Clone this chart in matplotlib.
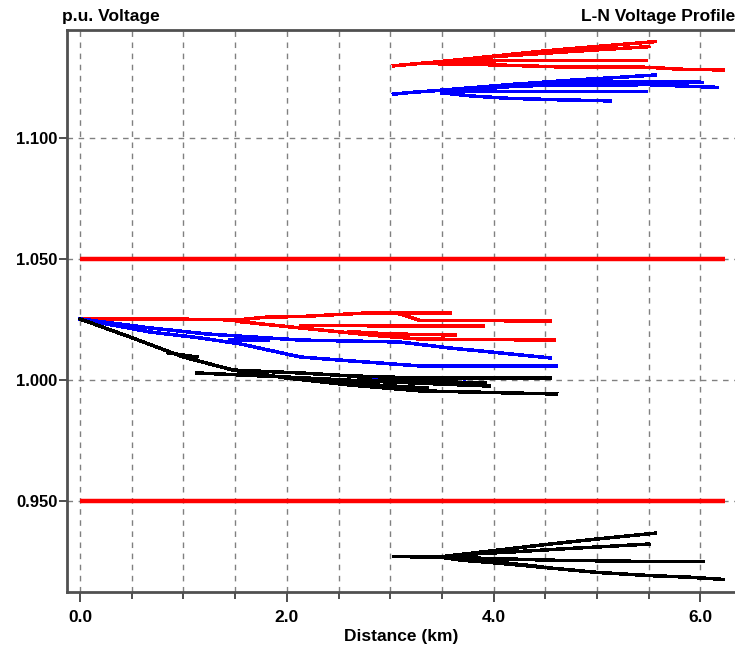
import matplotlib.pyplot as plt
from matplotlib.ticker import MultipleLocator

# branch profiles: (distance km, voltage p.u.)
# feeder near source, phase A (red)
red_mid_1 = [(0.0, 1.0252), (0.87, 1.0252), (1.52, 1.0248), (1.81, 1.0260), (2.13, 1.0262), (2.78, 1.0277), (3.58, 1.0277)]
red_mid_2 = [(3.09, 1.0273), (3.29, 1.0246), (4.55, 1.0244)]
red_mid_3 = [(1.52, 1.0242), (2.13, 1.0215), (2.90, 1.0182), (3.29, 1.0169), (4.59, 1.0165)]
red_mid_4 = [(2.13, 1.0226), (2.80, 1.0224), (3.90, 1.0223)]
red_mid_5 = [(2.60, 1.0200), (3.00, 1.0190), (3.63, 1.0186)]

# phase B (blue)
blue_mid_1 = [(0.0, 1.0252), (0.68, 1.0215), (1.23, 1.0190), (2.13, 1.0165), (3.09, 1.0157), (3.58, 1.0132), (4.06, 1.0112), (4.55, 1.0091)]
blue_mid_2 = [(0.0, 1.0252), (0.68, 1.0198), (1.16, 1.0174), (1.55, 1.0149), (2.13, 1.0095), (2.61, 1.0079), (3.29, 1.0058), (4.61, 1.0058)]
blue_mid_3 = [(1.45, 1.0166), (1.82, 1.0163)]
blue_mid_4 = [(2.83, 1.0012), (3.72, 1.0005)]

# phase C (black)
black_mid_1 = [(0.0, 1.0252), (0.48, 1.0178), (1.00, 1.0095), (1.48, 1.0041), (2.00, 1.0008), (2.61, 0.9979), (3.29, 0.9955), (4.61, 0.9942)]
black_mid_2 = [(1.48, 1.0041), (2.13, 1.0029), (2.61, 1.0017), (3.29, 1.0008), (4.55, 1.0008)]
black_mid_3 = [(1.13, 1.0029), (2.00, 1.0012), (2.80, 0.9995), (3.96, 0.9975)]
black_mid_4 = [(0.85, 1.0112), (1.13, 1.0095)]
black_mid_5 = [(2.40, 0.9990), (3.36, 0.9967)]
black_mid_6 = [(2.70, 1.0000), (3.92, 0.9988)]

# far end, high voltage group
red_hi_1 = [(3.03, 1.1298), (3.50, 1.1316), (4.00, 1.1338), (4.50, 1.1360), (5.00, 1.1378), (5.56, 1.1398)]
red_hi_2 = [(3.87, 1.1332), (4.50, 1.1350), (5.00, 1.1364), (5.50, 1.1377)]
red_hi_3 = [(3.60, 1.1318), (4.50, 1.1320), (5.48, 1.1319)]
red_hi_4 = [(3.30, 1.1308), (4.00, 1.1302), (4.60, 1.1294), (5.50, 1.1292), (5.80, 1.1284), (6.22, 1.1281)]

blue_hi_1 = [(3.03, 1.1181), (3.20, 1.1188), (3.40, 1.1194), (3.74, 1.1206), (4.20, 1.1222), (4.80, 1.1240), (5.20, 1.1250), (5.56, 1.1260)]
blue_hi_2 = [(4.20, 1.1222), (4.80, 1.1232), (5.50, 1.1233), (6.02, 1.1230)]
blue_hi_3 = [(3.74, 1.1204), (4.50, 1.1218), (5.50, 1.1220), (6.16, 1.1209)]
blue_hi_4 = [(3.50, 1.1194), (4.50, 1.1192), (5.48, 1.1191)]
blue_hi_5 = [(3.50, 1.1186), (3.80, 1.1173), (4.13, 1.1164), (4.60, 1.1158), (5.13, 1.1153)]

# far end, low voltage group
black_lo_1 = [(3.03, 0.9270), (3.48, 0.9269), (4.00, 0.9295), (4.50, 0.9320), (5.00, 0.9343), (5.56, 0.9367)]
black_lo_2 = [(3.75, 0.9280), (4.20, 0.9290), (4.70, 0.9303), (5.00, 0.9310), (5.50, 0.9322)]
black_lo_3 = [(3.48, 0.9268), (4.00, 0.9262), (4.60, 0.9255), (5.00, 0.9253), (5.50, 0.9250), (6.03, 0.9249)]
black_lo_4 = [(3.48, 0.9268), (3.70, 0.9255), (4.00, 0.9245), (4.50, 0.9225), (5.00, 0.9205), (5.50, 0.9192), (5.90, 0.9185), (6.22, 0.9176)]
black_lo_5 = [(3.70, 0.9258), (4.00, 0.9249), (4.47, 0.9228)]

limit_levels = [1.05, 0.95]
limit_span = [0.0, 6.24]

red_branches = [red_mid_1, red_mid_2, red_mid_3, red_mid_4, red_mid_5,
                red_hi_1, red_hi_2, red_hi_3, red_hi_4]
blue_branches = [blue_mid_1, blue_mid_2, blue_mid_3, blue_mid_4,
                 blue_hi_1, blue_hi_2, blue_hi_3, blue_hi_4, blue_hi_5]
black_branches = [black_mid_1, black_mid_2, black_mid_3, black_mid_4, black_mid_5, black_mid_6,
                  black_lo_1, black_lo_2, black_lo_3, black_lo_4, black_lo_5]

plt.rcParams['font.family'] = ['Liberation Sans', 'DejaVu Sans']
plt.rcParams['font.weight'] = 'bold'

fig = plt.figure(figsize=(7.35, 6.52), dpi=100)
ax = fig.add_axes([67 / 735, 60 / 652, 668 / 735, 562 / 652])

for lvl in limit_levels:
    ax.plot(limit_span, [lvl, lvl], color='#ff0000', lw=3.2, solid_capstyle='butt', zorder=3)

for color, group in [('#ff0000', red_branches), ('#0000ff', blue_branches), ('#000000', black_branches)]:
    for br in group:
        xs = [p[0] for p in br]
        vs = [p[1] for p in br]
        ax.plot(xs, vs, color=color, lw=1.8, antialiased=False, zorder=4)

ax.set_xlim(-0.126, 6.334)
ax.set_ylim(0.9124, 1.1446)

ax.xaxis.set_major_locator(MultipleLocator(2.0))
ax.xaxis.set_minor_locator(MultipleLocator(0.5))
ax.yaxis.set_major_locator(MultipleLocator(0.05))
ax.xaxis.set_major_formatter(plt.FuncFormatter(lambda v, p: f"{v:.1f}"))
ax.yaxis.set_major_formatter(plt.FuncFormatter(lambda v, p: f"{v:.3f}"))

ax.grid(True, which='both', axis='x', color='#808080', ls=(0, (4, 4)), lw=1.0)
ax.grid(True, which='major', axis='y', color='#808080', ls=(0, (4, 4)), lw=1.0)
ax.set_axisbelow(True)

ax.tick_params(axis='x', which='major', length=7, width=1.2, color='#303030', labelsize=12.5, pad=6)
ax.tick_params(axis='x', which='minor', length=5, width=1.2, color='#303030')
ax.tick_params(axis='y', which='major', length=6, width=1.2, color='#303030', labelsize=12, pad=1)

for side in ['left', 'bottom', 'top']:
    ax.spines[side].set_color('#505050')
    ax.spines[side].set_linewidth(2.0)
ax.spines['right'].set_visible(False)

ax.set_xlabel("Distance (km)", fontsize=12.5, fontweight='bold', labelpad=3)

fig.text(62 / 735, 1 - 16 / 652, "p.u. Voltage", fontsize=12.5, fontweight='bold', ha='left', va='center')
fig.text(1.0, 1 - 16 / 652, "L-N Voltage Profile", fontsize=12.5, fontweight='bold', ha='right', va='center')

plt.savefig("out.png", dpi=100)
plt.close()
